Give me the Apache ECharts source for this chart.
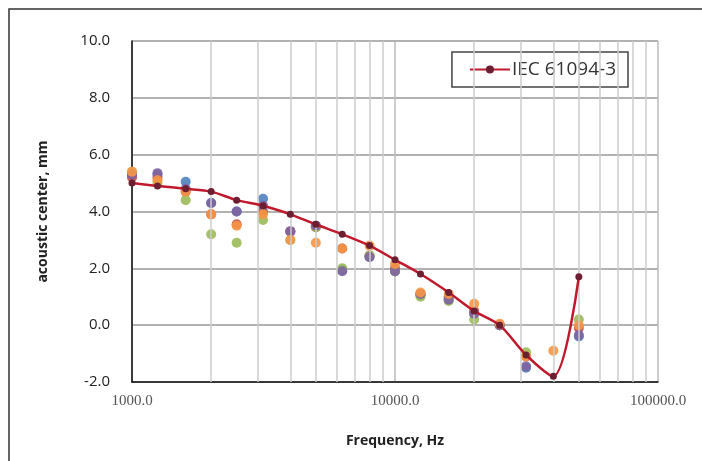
<!DOCTYPE html>
<html>
<head>
<meta charset="utf-8">
<script src="https://cdn.jsdelivr.net/npm/echarts@6/dist/echarts.min.js"></script>
<style>
html,body{margin:0;padding:0;background:#fff;}
#chart{width:702px;height:461px;}
</style>
</head>
<body>
<div id="chart"></div>
<script>
var freq = [1000,1250,1600,2000,2500,3150,4000,5000,6300,8000,10000,12500,16000,20000,25000,31500,40000,50000];
var iec = [5.0,4.9,4.8,4.7,4.4,4.2,3.9,3.55,3.2,2.8,2.3,1.8,1.15,0.5,0.0,-1.05,-1.8,1.7];
var blue = [5.3,5.3,5.05,4.3,4.0,4.45,3.3,3.5,1.95,2.4,1.9,1.05,0.9,0.4,0.0,-1.5,null,-0.4];
var red = [5.2,5.2,4.7,3.9,3.55,4.0,3.3,3.45,2.7,2.45,2.0,1.1,1.0,0.5,0.0,-1.1,null,-0.1];
var green = [5.4,5.0,4.4,3.2,2.9,3.7,3.0,3.45,2.0,2.45,1.9,1.0,0.85,0.2,0.0,-0.95,null,0.2];
var purple = [5.3,5.35,4.8,4.3,4.0,4.2,3.3,3.5,1.9,2.4,1.9,1.1,0.9,0.4,0.0,-1.45,null,-0.35];
var orange = [5.4,5.1,4.7,3.9,3.5,3.9,3.0,2.9,2.7,2.8,2.15,1.15,1.1,0.75,0.05,-1.1,-0.9,0.0];
var minorX = [2000,3000,4000,5000,6000,7000,8000,9000,20000,30000,40000,50000,60000,70000,80000,90000];

function pairs(arr){
    var out = [];
    for(var i = 0;i < freq.length;i++){
        if(arr[i] !== null) out.push([freq[i], arr[i]]);
    }
    return out;
}
function dots(name, color, arr){
    return {
        name: name,
        type: 'scatter',
        symbolSize: 10,
        itemStyle: {color: color, opacity: 0.9},
        data: pairs(arr),
        z: 3
    };
}

var option = {
    animation: false,
    graphic: [{
        type: 'rect',
        shape: {x: 9, y: 9, width: 720, height: 480},
        style: {fill: 'none', stroke: '#333', lineWidth: 1.5}
    }],
    grid: {left: 132, right: 44, top: 41, bottom: 79},
    legend: {
        data: ['IEC 61094-3'],
        right: 74,
        top: 52,
        itemWidth: 40,
        itemHeight: 10,
        itemGap: 4,
        padding: [8, 12, 8, 17],
        borderColor: '#444',
        borderWidth: 1.5,
        backgroundColor: '#fff',
        textStyle: {color: '#333', fontSize: 19, fontFamily: 'Open Sans', padding: [0, 0, 0, -3]}
    },
    xAxis: {
        type: 'log',
        logBase: 10,
        min: 1000,
        max: 100000,
        name: 'Frequency, Hz',
        nameLocation: 'middle',
        nameGap: 52,
        nameTextStyle: {color: '#222', fontSize: 14, fontWeight: 'bold', fontFamily: 'Open Sans'},
        axisLine: {onZero: false, lineStyle: {color: '#111', width: 1.5}},
        axisTick: {show: false},
        axisLabel: {
            color: '#555', fontSize: 15, fontFamily: 'Liberation Serif', margin: 12,
            formatter: function(v){ return v.toFixed(1); }
        },
        splitLine: {show: true, lineStyle: {color: '#bbb', width: 1.5}}
    },
    yAxis: {
        type: 'value',
        min: -2,
        max: 10,
        interval: 2,
        name: 'acoustic center, mm',
        nameLocation: 'middle',
        nameGap: 82,
        nameTextStyle: {color: '#222', fontSize: 14, fontWeight: 'bold', fontFamily: 'Open Sans'},
        axisLine: {show: true, onZero: false, lineStyle: {color: '#111', width: 1.5}},
        axisTick: {show: false},
        axisLabel: {
            color: '#222', fontSize: 15, fontFamily: 'Open Sans', margin: 22,
            formatter: function(v){ return v.toFixed(1); }
        },
        splitLine: {show: true, lineStyle: {color: '#999', width: 1.5}}
    },
    series: [
        {
            name: 'minor',
            type: 'line',
            data: [],
            silent: true,
            markLine: {
                silent: true,
                symbol: 'none',
                label: {show: false},
                lineStyle: {color: '#ccc', type: 'solid', width: 1.5},
                data: minorX.map(function(v){ return {xAxis: v}; })
            },
            z: 1
        },
        dots('s1', '#4F81BD', blue),
        dots('s2', '#C0504D', red),
        dots('s3', '#9BBB59', green),
        dots('s4', '#8064A2', purple),
        dots('s5', '#F79646', orange),
        {
            name: 'IEC 61094-3',
            type: 'line',
            smooth: 0.3,
            symbol: 'circle',
            symbolSize: 7,
            lineStyle: {color: '#C0182C', width: 2.5},
            itemStyle: {color: '#6B1F30'},
            data: pairs(iec),
            z: 5
        }
    ]
};

var dom = document.getElementById("chart");
var myChart = echarts.init(dom);
myChart.setOption(option, true);
</script>
</body>
</html>
